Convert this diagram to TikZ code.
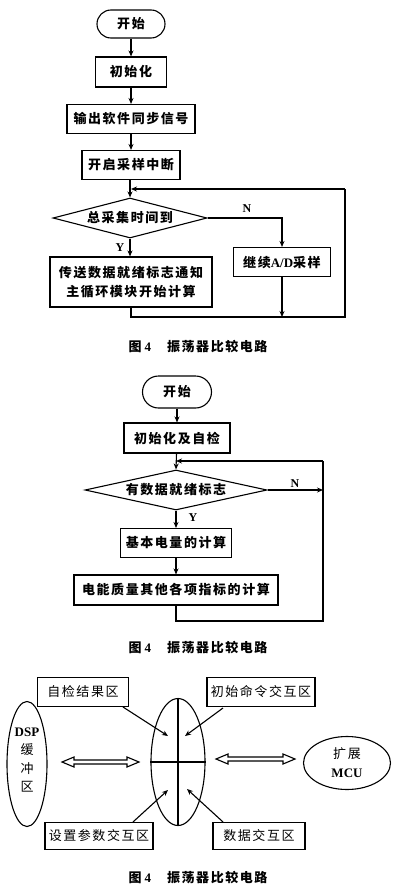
\documentclass[tikz,border=0pt]{standalone}
\usepackage{fontspec}
\setmainfont{Liberation Serif}
\newfontfamily\cjk{Noto Sans CJK SC}[LetterSpace=12]
\usetikzlibrary{shapes.geometric,arrows.meta}
\begin{document}
\begin{tikzpicture}[x=1pt,y=-1pt,
  every node/.style={font=\fontsize{13}{16}\selectfont\cjk\bfseries},
  box/.style={draw,line width=1.1pt,inner sep=0pt,align=center},
  term/.style={draw,line width=1.1pt,rounded corners=14pt,inner sep=0pt},
  dia/.style={draw,diamond,line width=1.1pt,inner sep=0pt},
  ell/.style={draw,ellipse,line width=1.1pt,inner sep=0pt},
  lbl/.style={font=\fontsize{12}{14}\selectfont\rmfamily\bfseries},
  captext/.style={font=\fontsize{13}{16}\selectfont\cjk\bfseries},
  light/.style={font=\fontsize{13}{16}\selectfont\cjk\mdseries},
  ln/.style={line width=1.1pt},
  arr/.style={line width=1.1pt,-{Stealth[length=6pt,width=5pt]}},
  hollow/.style={draw,line width=1.1pt,fill=white}
]
\useasboundingbox (0,0) rectangle (400,891);
% ---------- diagram 1 ----------
\node[term,minimum width=68pt,minimum height=28pt] (s1) at (131,24) {开始};
\node[box,minimum width=71pt,minimum height=30pt] (b1) at (131,72) {初始化};
\node[box,minimum width=128pt,minimum height=29pt] (b2) at (131,119) {输出软件同步信号};
\node[box,minimum width=98pt,minimum height=29pt] (b3) at (131,165) {开启采样中断};
\node[dia,minimum width=154pt,minimum height=40pt] (d1) at (130,218) {};
\node (d1t) at (d1.center) {总采集时间到};
\node[box,minimum width=97pt,minimum height=29pt] (b4) at (282,262) {继续{\rmfamily\bfseries A/D}采样};
\node[box,minimum width=162pt,minimum height=50pt,font=\fontsize{13}{19}\selectfont\cjk\bfseries] (b5) at (131,282) {传送数据就绪标志通知\\主循环模块开始计算};
\coordinate (j1) at (131,189);
\coordinate (c1) at (345,189);
\coordinate (c2) at (345,317);
\coordinate (c3) at (131,317);
\coordinate (c4) at (282,317);
\node[lbl] (n1) at (247,209) {N};
\node[lbl] (y1) at (120,248) {Y};
\draw[arr] (s1) -- (b1);
\draw[arr] (b1) -- (b2);
\draw[arr] (b2) -- (b3);
\draw[arr] (b3.south -| d1.north) -- (d1.north);
\draw[arr] (d1.east) -| (b4.north);
\draw[arr] (d1.south) -- (b5.north -| d1.south);
\draw[ln] (b5.south) -- (c3) -- (c2) -- (c1);
\draw[arr] (c1) -- (j1);
\draw[arr] (b4.south) -- (c4);
\node[captext] (cap1) at (198,347) {图\hspace{3pt}{\rmfamily\bfseries 4}\hspace{16pt}振荡器比较电路};
% ---------- diagram 2 ----------
\node[term,minimum width=69pt,minimum height=32pt,rounded corners=16pt] (s2) at (177,392) {开始};
\node[box,minimum width=106pt,minimum height=30pt] (e1) at (177,438) {初始化及自检};
\node[dia,minimum width=182pt,minimum height=40pt] (d2) at (176,490) {};
\node (d2t) at (d2.center) {有数据就绪标志};
\node[box,minimum width=111pt,minimum height=29pt] (e2) at (176,543) {基本电量的计算};
\node[box,minimum width=204pt,minimum height=30pt] (e3) at (176,590) {电能质量其他各项指标的计算};
\coordinate (j2) at (176,461);
\coordinate (k1) at (323,461);
\coordinate (k2) at (323,621);
\coordinate (k3) at (176,621);
\coordinate (k4) at (323,490);
\node[lbl] (n2) at (295,484) {N};
\node[lbl] (y2) at (193,518) {Y};
\draw[arr] (s2) -- (e1);
\draw[arr] (e1) -- (d2.north);
\draw[arr] (d2.south) -- (e2.north);
\draw[arr] (e2) -- (e3);
\draw[arr] (d2.east) -- (k4);
\draw[ln] (e3.south) -- (k3) -- (k2) -- (k1);
\draw[arr] (k1) -- (j2);
\node[captext] (cap2) at (198,648) {图\hspace{3pt}{\rmfamily\bfseries 4}\hspace{16pt}振荡器比较电路};
% ---------- diagram 3 ----------
\node[box,light,minimum width=91pt,minimum height=29pt] (r1) at (83,692) {自检结果区};
\node[box,light,minimum width=108pt,minimum height=29pt] (r2) at (261,692) {初始命令交互区};
\node[box,light,minimum width=108pt,minimum height=27pt] (r3) at (99,836) {设置参数交互区};
\node[box,light,minimum width=92pt,minimum height=27pt] (r4) at (259,836) {数据交互区};
\node[ell,minimum width=40pt,minimum height=125pt] (dsp) at (27,764) {};
\node[font=\fontsize{13}{18.5}\selectfont\cjk\mdseries,align=center] (dspt) at (27,760) {{\rmfamily\bfseries DSP}\\缓\\冲\\区};
\node[ell,minimum width=54pt,minimum height=127pt] (mid) at (178,762) {};
\draw[ln] (mid.north) -- (mid.south);
\draw[ln] (mid.west) -- (mid.east);
\node[ell,minimum width=87pt,minimum height=53pt,align=center,font=\fontsize{13}{19}\selectfont\cjk\mdseries] (mcu) at (347,763) {扩展\\{\rmfamily\bfseries MCU}};
\coordinate (p1) at (168,736);
\coordinate (p2) at (185,736);
\coordinate (p3) at (168,790);
\coordinate (p4) at (187,789);
\draw[arr] (123,707) -- (p1);
\draw[arr] (223,708) -- (p2);
\draw[arr] (r3.north -| 133,0) -- (p3);
\draw[arr] (r4.north -| 223,0) -- (p4);
% hollow double arrows
\draw[hollow] (62,762) -- ++(12,-5) -- ++(0,3) -- (127,760) -- ++(0,-3) -- (139,762) -- ++(-12,5) -- ++(0,-3) -- (74,764) -- ++(0,3) -- cycle;
\draw[hollow] (216,759) -- ++(12,-5) -- ++(0,3) -- (283,757) -- ++(0,-3) -- (295,759) -- ++(-12,5) -- ++(0,-3) -- (228,761) -- ++(0,3) -- cycle;
\node[captext] (cap3) at (198,878) {图\hspace{3pt}{\rmfamily\bfseries 4}\hspace{16pt}振荡器比较电路};
\end{tikzpicture}
\end{document}
